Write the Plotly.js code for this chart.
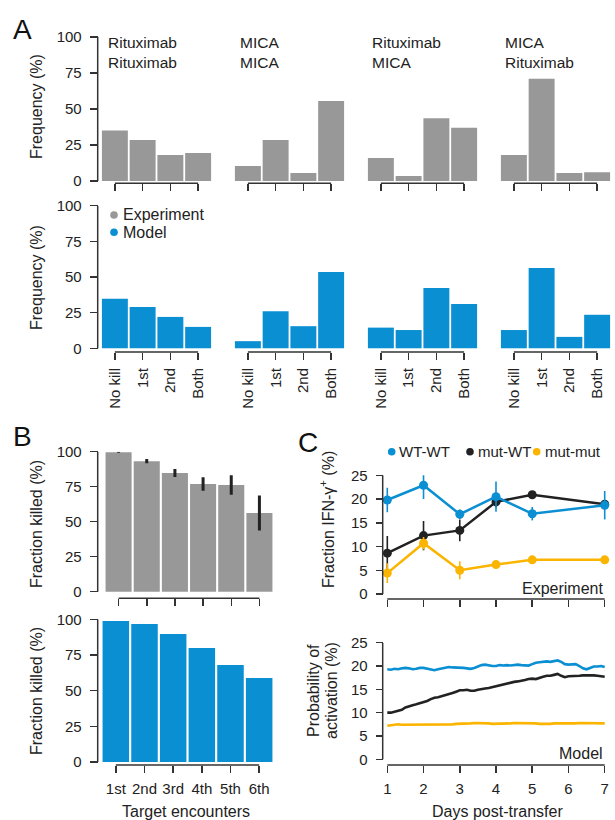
<!DOCTYPE html>
<html><head><meta charset="utf-8">
<script src="https://cdn.plot.ly/plotly-3.0.1.min.js"></script>
<style>html,body{margin:0;padding:0;background:#fff}#chart{width:615px;height:820px}</style>
</head><body><div id="chart"></div>
<script>
// ---------------- DATA ----------------
const outcomeCategories = ['No kill', '1st', '2nd', 'Both'];
const firstTarget  = ['Rituximab', 'MICA', 'Rituximab', 'MICA'];
const secondTarget = ['Rituximab', 'MICA', 'MICA', 'Rituximab'];
// Panel A, experiment (frequency %)
const expRituxRitux = [35, 28.5, 18, 19.5];
const expMicaMica   = [10.5, 28.5, 5.5, 55.5];
const expRituxMica  = [16, 3.5, 43.5, 37];
const expMicaRitux  = [18, 71, 5.5, 6];
// Panel A, model (frequency %)
const modRituxRitux = [34.8, 29, 22, 15];
const modMicaMica   = [5, 26, 15.5, 53.5];
const modRituxMica  = [14.5, 12.8, 42.3, 31];
const modMicaRitux  = [12.8, 56.3, 8, 23.5];
// Panel B
const encounters = ['1st', '2nd', '3rd', '4th', '5th', '6th'];
const killedExp    = [99.6, 93.2, 84.8, 76.9, 76.2, 56.2];
const killedExpErr = [0.4, 1.5, 2.8, 4.8, 6.9, 12.5];
const killedModel  = [98.8, 96.7, 89.7, 79.9, 68, 58.9];
// Panel C, experiment
const expDays = [1, 2, 3, 4, 5, 7];
const wtwtExp    = [19.8, 22.9, 16.8, 20.5, 16.9, 18.7];
const wtwtErr    = [2.6, 2.9, 1.0, 3.2, 1.4, 3.0];
const mutwtExp   = [8.6, 12.3, 13.4, 19.4, 20.9, 18.9];
const mutwtErr   = [3.6, 3.1, 2.3, 1.2, 0.4, 0.8];
const mutmutExp  = [4.4, 10.7, 5.0, 6.2, 7.2, 7.2];
const mutmutErr  = [2.1, 1.3, 1.9, 0.4, 0.3, 0.3];
// Panel C, model
const modelDays = [1.0,1.1,1.2,1.3,1.4,1.5,1.6,1.7,1.8,1.9,2.0,2.1,2.2,2.3,2.4,2.5,2.6,2.7,2.8,2.9,3.0,3.1,3.2,3.3,3.4,3.5,3.6,3.7,3.8,3.9,4.0,4.1,4.2,4.3,4.4,4.5,4.6,4.7,4.8,4.9,5.0,5.1,5.2,5.3,5.4,5.5,5.6,5.7,5.8,5.9,6.0,6.1,6.2,6.3,6.4,6.5,6.6,6.7,6.8,6.9,7.0];
const wtwtModel = [19.3,19.2,19.4,19.3,19.5,19.6,19.5,19.3,19.4,19.6,19.6,19.4,19.2,19.1,19.3,19.5,19.6,19.8,19.7,19.7,19.7,19.6,19.5,19.4,19.6,19.9,20.2,20.3,20.1,20.0,20.0,20.2,20.1,20.2,20.1,20.2,20.3,20.2,20.1,20.1,20.4,20.7,20.8,20.9,21.0,20.9,21.0,21.2,20.9,20.4,20.3,20.4,20.4,20.0,19.5,19.3,19.6,19.9,19.9,20.0,19.8];
const mutwtModel = [10.0,10.0,10.2,10.4,10.6,11.1,11.4,11.6,11.8,12.0,12.2,12.5,12.9,13.2,13.3,13.5,13.8,14.0,14.2,14.5,14.8,14.8,14.9,14.7,14.7,14.9,15.1,15.2,15.3,15.5,15.6,15.9,16.1,16.3,16.5,16.6,16.7,16.8,17.0,17.2,17.3,17.2,17.5,17.7,17.9,17.9,18.1,18.3,17.9,17.6,17.8,17.8,17.9,17.9,18.0,18.0,18.1,18.0,17.9,17.8,17.7];
const mutmutModel = [7.2,7.3,7.4,7.5,7.4,7.4,7.5,7.4,7.5,7.5,7.4,7.5,7.5,7.4,7.5,7.4,7.4,7.5,7.5,7.6,7.6,7.6,7.7,7.7,7.8,7.8,7.7,7.7,7.7,7.6,7.6,7.6,7.7,7.7,7.7,7.8,7.8,7.8,7.8,7.7,7.7,7.7,7.6,7.6,7.5,7.6,7.7,7.7,7.7,7.7,7.6,7.6,7.7,7.8,7.8,7.8,7.7,7.7,7.7,7.7,7.7];
const dayTicks = [1, 2, 3, 4, 5, 6, 7];
const pctTicks = [0, 25, 50, 75, 100];
const ifnTicks = [0, 5, 10, 15, 20, 25];

// ---------------- STYLE / GEOMETRY ----------------
const W = 615, H = 820;
const px = x => x / W, py = y => 1 - y / H;
const GRAY = '#989898', BLUE = '#0a8fd3', ORANGE = '#fbb400', BLACK = '#222222';
const AX = '#333333', TXT = '#222222';
const FONT = 'Liberation Sans, Arial, sans-serif';

const traces = [];
const layout = {
  width: W, height: H, margin: {l: 0, r: 0, t: 0, b: 0},
  paper_bgcolor: '#fff', plot_bgcolor: 'rgba(0,0,0,0)',
  font: {family: FONT, color: TXT, size: 15},
  showlegend: false, hovermode: false,
  shapes: [], annotations: []
};

function xAxisBase(domain, anchor, extra) {
  return Object.assign({
    domain: domain, anchor: anchor, showgrid: false, zeroline: false, showline: false,
    ticks: 'outside', ticklen: 7, tickwidth: 1.5, tickcolor: AX,
    tickfont: {size: 15, color: TXT, family: FONT}, fixedrange: true
  }, extra);
}
function yAxisBase(domain, range, pos, tickvals, ticklen) {
  return {
    domain: domain, range: range, anchor: 'free', position: pos,
    showgrid: false, zeroline: false, showline: false,
    ticks: 'outside', ticklen: ticklen, tickwidth: 1.5, tickcolor: AX,
    tickvals: tickvals, ticktext: tickvals.map(String),
    tickfont: {size: 15, color: TXT, family: FONT}, ticklabelstandoff: 5, fixedrange: true
  };
}
function hLine(xref, x0, x1, yPaper) {
  layout.shapes.push({type: 'line', xref: xref, yref: 'paper', x0: x0, x1: x1, y0: yPaper, y1: yPaper,
    line: {color: AX, width: 1.5}});
}
function vLine(xPaper, yref, y0, y1) {
  layout.shapes.push({type: 'line', xref: 'paper', yref: yref, x0: xPaper, x1: xPaper, y0: y0, y1: y1,
    line: {color: AX, width: 1.5}});
}
function ann(text, x, y, o) {
  layout.annotations.push(Object.assign({
    text: text, x: px(x), y: py(y), xref: 'paper', yref: 'paper', showarrow: false,
    xanchor: 'left', yanchor: 'middle', font: {size: 16, color: TXT, family: FONT}
  }, o || {}));
}
function dot(x, y, r, color) {
  layout.shapes.push({type: 'circle', xref: 'paper', yref: 'paper',
    x0: px(x - r), x1: px(x + r), y0: py(y + r), y1: py(y - r),
    fillcolor: color, line: {width: 0}});
}

// ---------------- PANEL A ----------------
const groupLeft = [101, 234, 367, 500];
const titleLeft = [106, 238, 370, 503];
const groupWidth = 111;
const expSets = [expRituxRitux, expMicaMica, expRituxMica, expMicaRitux];
const modSets = [modRituxRitux, modMicaMica, modRituxMica, modMicaRitux];
const aTopBottom = 183.3, aTopTop = 37;
const aBotBottom = 352, aBotTop = 205.7;
layout.yaxis  = yAxisBase([py(aTopBottom), py(aTopTop)], [-1.6, 100], px(97.7), pctTicks, 8);
layout.yaxis2 = yAxisBase([py(aBotBottom), py(aBotTop)], [-2.6, 100], px(97.7), pctTicks, 8);
vLine(px(97.7), 'y', 0, 100);
vLine(px(97.7), 'y2', 0, 100);
for (let g = 0; g < 4; g++) {
  const dom = [px(groupLeft[g]), px(groupLeft[g] + groupWidth)];
  const kTop = g + 1, kBot = g + 5;
  const nameTop = kTop === 1 ? 'x' : 'x' + kTop, nameBot = 'x' + kBot;
  layout[kTop === 1 ? 'xaxis' : 'xaxis' + kTop] = xAxisBase(dom, 'y',
    {type: 'category', range: [-0.5, 3.5], showticklabels: false});
  layout['xaxis' + kBot] = xAxisBase(dom, 'y2',
    {type: 'category', range: [-0.5, 3.5], showticklabels: true, tickangle: -90, ticklabelstandoff: 2});
  traces.push({type: 'bar', x: outcomeCategories, y: expSets[g], xaxis: nameTop, yaxis: 'y',
    width: 0.935, marker: {color: GRAY, line: {width: 0}}, name: 'Experiment'});
  traces.push({type: 'bar', x: outcomeCategories, y: modSets[g], xaxis: nameBot, yaxis: 'y2',
    width: 0.935, marker: {color: BLUE, line: {width: 0}}, name: 'Model'});
  hLine(nameTop, 0, 3, py(aTopBottom));
  hLine(nameBot, 0, 3, py(aBotBottom));
  ann(firstTarget[g] + '<br>' + secondTarget[g], titleLeft[g], 52.3, {align: 'left', font: {size: 15.5, color: TXT, family: FONT}});
}
// A legend
dot(114, 215, 3.8, GRAY);
dot(114, 232.3, 3.8, BLUE);
ann('Experiment', 121, 214.7);
ann('Model', 121, 232.3);
ann('Frequency (%)', 36, 107, {textangle: -90, xanchor: 'center'});
ann('Frequency (%)', 36, 278, {textangle: -90, xanchor: 'center'});
ann('A', 11, 29.5, {font: {size: 28, color: '#111', family: FONT}});

// ---------------- PANEL B ----------------
layout.yaxis3 = yAxisBase([py(598.3), py(451.7)], [-4.7, 100], px(97.7), pctTicks, 8);
layout.yaxis4 = yAxisBase([py(765), py(619.3)], [-2.1, 100], px(97.7), pctTicks, 8);
layout.xaxis9  = xAxisBase([px(104.5), px(273.5)], 'y3', {type: 'category', range: [-0.5, 5.5], showticklabels: false});
layout.xaxis10 = xAxisBase([px(101.5), px(273.5)], 'y4', {type: 'category', range: [-0.5, 5.5], showticklabels: true, ticklabelstandoff: 3});
vLine(px(97.7), 'y3', 0, 100);
vLine(px(97.7), 'y4', 0, 100);
hLine('x9', 0, 5, py(598.3));
hLine('x10', 0, 5, py(765));
traces.push({type: 'bar', x: encounters, y: killedExp, xaxis: 'x9', yaxis: 'y3', width: 0.925,
  marker: {color: GRAY, line: {width: 0}},
  error_y: {type: 'data', array: killedExpErr, visible: true, color: BLACK, thickness: 3, width: 0}});
traces.push({type: 'bar', x: encounters, y: killedModel, xaxis: 'x10', yaxis: 'y4', width: 0.925,
  marker: {color: BLUE, line: {width: 0}}});
ann('Fraction killed (%)', 36, 524, {textangle: -90, xanchor: 'center'});
ann('Fraction killed (%)', 36, 691, {textangle: -90, xanchor: 'center'});
ann('Target encounters', 186, 811, {xanchor: 'center'});
ann('B', 11, 436, {font: {size: 28, color: '#111', family: FONT}});

// ---------------- PANEL C ----------------
const cDom = [px(382.7), px(612)];
layout.yaxis5 = yAxisBase([py(599), py(475.3)], [-1.05, 25], px(382.7), ifnTicks, 7);
layout.yaxis6 = yAxisBase([py(765), py(642.7)], [-1.22, 25], px(382.7), ifnTicks, 7);
layout.xaxis11 = xAxisBase(cDom, 'y5', {range: [0.873, 7.2015], tickvals: dayTicks, showticklabels: false});
layout.xaxis12 = xAxisBase(cDom, 'y6', {range: [0.873, 7.2015], tickvals: dayTicks, ticktext: dayTicks.map(String), showticklabels: true, ticklabelstandoff: 3});
vLine(px(382.7), 'y5', 0, 25);
vLine(px(382.7), 'y6', 0, 25);
hLine('x11', 1, 7, py(599));
hLine('x12', 1, 7, py(765));
const cSeries = [
  {name: 'mut-WT', exp: mutwtExp, err: mutwtErr, model: mutwtModel, color: BLACK},
  {name: 'mut-mut', exp: mutmutExp, err: mutmutErr, model: mutmutModel, color: ORANGE},
  {name: 'WT-WT', exp: wtwtExp, err: wtwtErr, model: wtwtModel, color: BLUE}
];
cSeries.forEach(s => {
  traces.push({type: 'scatter', mode: 'lines+markers', x: expDays, y: s.exp, xaxis: 'x11', yaxis: 'y5',
    name: s.name, line: {color: s.color, width: 2.5}, marker: {color: s.color, size: 9},
    error_y: {type: 'data', array: s.err, visible: true, color: s.color, thickness: 1.6, width: 0},
    cliponaxis: false});
  traces.push({type: 'scatter', mode: 'lines', x: modelDays, y: s.model, xaxis: 'x12', yaxis: 'y6',
    name: s.name, line: {color: s.color, width: 2.6}});
});
// C legend
const legFont = {size: 15, color: TXT, family: FONT};
dot(391.7, 451.7, 3.8, BLUE);
ann('WT-WT', 397, 451.7, {font: legFont});
dot(470, 451.7, 3.8, BLACK);
ann('mut-WT', 476, 451.7, {font: legFont});
dot(536.7, 451.7, 3.8, ORANGE);
ann('mut-mut', 542.5, 451.7, {font: legFont});
ann('Experiment', 605, 588.5, {xanchor: 'right'});
ann('Model', 605, 753, {xanchor: 'right'});
ann('Fraction IFN-γ<sup>+</sup> (%)', 327, 520, {textangle: -90, xanchor: 'center'});
ann('Probability of', 313, 691, {textangle: -90, xanchor: 'center'});
ann('activation (%)', 331, 691, {textangle: -90, xanchor: 'center'});
ann('Days post-transfer', 497, 811, {xanchor: 'center'});
ann('C', 296, 442, {font: {size: 28, color: '#111', family: FONT}});

Plotly.newPlot('chart', traces, layout, {staticPlot: true, displayModeBar: false});
</script>
</body></html>
